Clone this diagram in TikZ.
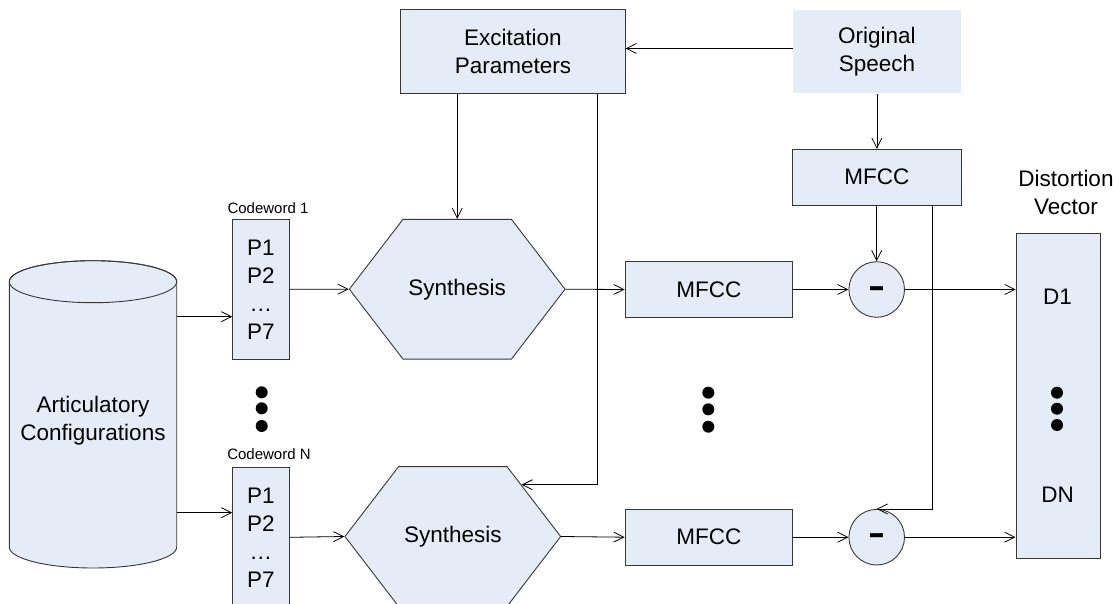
\documentclass[tikz,border=0pt]{standalone}
\usepackage{fontspec}
\usepackage{graphicx}
\setmainfont{Liberation Sans}
\usetikzlibrary{shapes.symbols,arrows.meta,calc}
\definecolor{boxfill}{RGB}{230,236,247}
\definecolor{edge}{RGB}{55,55,55}
\begin{document}
\begin{tikzpicture}[x=1pt,y=-1pt,
  every node/.style={font=\fontsize{22.5}{28}\selectfont, align=center, inner sep=0pt},
  box/.style={rectangle, draw=edge, line width=0.9pt, fill=boxfill},
  plainbox/.style={rectangle, fill=boxfill},
  hexa/.style={signal, signal to=east and west, signal pointer angle=105,
    draw=edge, fill=boxfill, line width=0.9pt,
    minimum width=215.7pt, minimum height=139.7pt},
  diffnode/.style={circle, draw=edge, fill=boxfill, line width=0.9pt, minimum size=55.6pt},
  cwbox/.style={box, minimum width=56.3pt, minimum height=140pt},
  mfccbox/.style={box, minimum width=167.7pt, minimum height=55.6pt},
  cwlabel/.style={font=\fontsize{15}{18}\selectfont},
  minus/.style={font=\fontsize{34}{34}\selectfont\bfseries},
  arr/.style={-{Straight Barb[length=10pt,width=10pt]}, line width=0.8pt, black}
]
\useasboundingbox (0,0) rectangle (1113,604);

% database of configurations: cylinder outline, then its label node
\filldraw[draw=edge, fill=boxfill, line width=0.9pt]
  (9.3,281.7) -- (9.3,547)
  arc[start angle=180, end angle=360, x radius=83.7pt, y radius=21pt]
  -- (176.7,281.7)
  arc[start angle=0, end angle=180, x radius=83.7pt, y radius=21pt] -- cycle;
\draw[edge, line width=0.9pt] (93,281.7) ellipse[x radius=83.7pt, y radius=21pt];
\node[minimum width=167.4pt] (cyl) at (93,420.4) {Articulatory\\Configurations};

% codewords
\node[cwbox] (cw1) at (260.8,289.3) {P1\\P2\\…\\P7};
\node[cwbox] (cw2) at (260.8,537.3) {P1\\P2\\…\\P7};
\node[cwlabel] (l1) at (268,208.3) {Codeword 1};
\node[cwlabel] (l2) at (269,454) {Codeword N};

% synthesis blocks
\node[hexa] (s1) at (457.2,289.2) {Synthesis};
\node[hexa] (s2) at (452.8,536.5) {Synthesis};

% top row
\node[box, minimum width=224.3pt, minimum height=84pt] (ex) at (512.9,51.3) {Excitation\\Parameters};
\node[plainbox, minimum width=168.3pt, minimum height=83.3pt] (os) at (876.9,51.7) {Original\\Speech};
\node[box, minimum width=168.3pt, minimum height=55.7pt] (mt) at (876.9,177.2) {MFCC};

% feature extraction and comparison
\node[mfccbox] (m1) at (708.9,289.5) {MFCC};
\node[mfccbox] (m2) at (708.9,537.2) {MFCC};
\node[diffnode] (c1) at (876.7,289.5) {};
\node[minus] (c1m) at (876.7,291.8) {\scalebox{1.5}[1]{-}};
\node[diffnode] (c2) at (876.7,537.2) {};
\node[minus] (c2m) at (876.7,539.5) {\scalebox{1.5}[1]{-}};

% distortion vector
\node[box, minimum width=84pt, minimum height=325pt] (dv) at (1058,395.8) {};
\node (d1) at (1057.5,296.7) {D1};
\node (dn) at (1057.5,495) {DN};
\node (dvl) at (1066,192.9) {Distortion\\Vector};

% vertical ellipses
\foreach \x/\ya/\yb/\yc in {261.7/392.3/408.3/426, 708.3/392.7/409.3/426.7, 1057/392.7/408.7/425}{
  \fill (\x,\ya) circle (6pt);
  \fill (\x,\yb) circle (6pt);
  \fill (\x,\yc) circle (6pt);
}

% connectors
\coordinate (in1) at ([yshift=-27.4pt]cw1.west);
\coordinate (in2) at ([yshift=24.6pt]cw2.west);
\draw[arr] (cyl.east |- in1) -- (in1);
\draw[arr] (cyl.east |- in2) -- (in2);

\draw[arr] ([yshift=3.2pt]os.west) -- ([yshift=3.2pt]os.west -| ex.east);
\draw[arr] (ex.south -| s1.north) -- (s1.north);
\draw[arr] ([xshift=-28.3pt]ex.south east) |- (s2.37);
\draw[arr] (os.south) -- (mt.north);
\draw[arr] (mt.south -| c1.north) -- (c1.north);
\draw[arr] ([xshift=55.4pt]mt.south) |- (c2.north);

\draw[arr] (cw1.east) -- (s1.west);
\draw[arr] (s1.east) -- (m1.west);
\draw[arr] (m1.east) -- (c1.west);
\draw[arr] (c1.east) -- (c1.east -| dv.west);

\draw[arr] (cw2.east) -- (s2.west);
\draw[arr] (s2.east) -- (m2.west);
\draw[arr] (m2.east) -- (c2.west);
\draw[arr] (c2.east) -- (c2.east -| dv.west);
\end{tikzpicture}
\end{document}
